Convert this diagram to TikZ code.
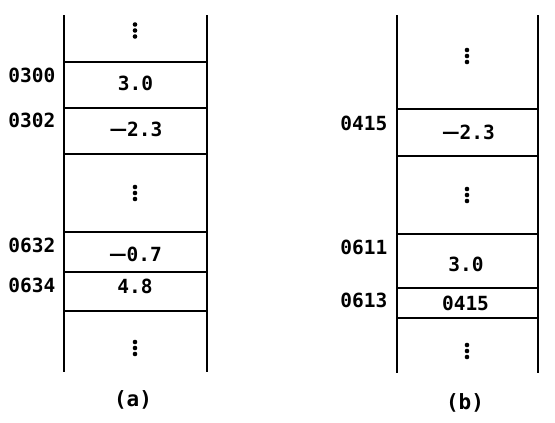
\documentclass[tikz,border=0pt]{standalone}
\usepackage{fontspec}
\setmonofont{DejaVu Sans Mono}
\newcommand{\longminus}{\scalebox{1.5}[1]{−}}
\begin{document}
\begin{tikzpicture}[x=1pt,y=-1pt,line width=1.2pt,
  txt/.style={font=\ttfamily\bfseries\fontsize{19.5}{19.5}\selectfont,inner sep=0pt},
  addr/.style={txt,anchor=east},
  val/.style={txt},
  captext/.style={font=\ttfamily\bfseries\fontsize{21}{21}\selectfont,inner sep=0pt},
  dotmark/.style={fill=black}]
\useasboundingbox (0,0) rectangle (555,423);
% ---------- column (a) ----------
\draw (64,15) -- (64,372);
\draw (207,15) -- (207,372);
\foreach \y in {62,108,154,232,272,311} \draw (64,\y) -- (207,\y);
\foreach \cy in {30.5,193,348} {\foreach \d in {-6,0,6} \fill[dotmark] (135,\cy+\d) circle (2.3);}
\node[addr] (a300) at (56,75) {0300};
\node[addr] (a302) at (56,120.5) {0302};
\node[addr] (a632) at (56,245.5) {0632};
\node[addr] (a634) at (56,285) {0634};
\node[val] (va1) at (135.5,83.5) {3.0};
\node[val] (va2) at (136,129.5) {\longminus2.3};
\node[val] (va3) at (135.5,254.5) {\longminus0.7};
\node[val] (va4) at (135,286.5) {4.8};
\node[captext] (capa) at (133,400) {(a)};
% ---------- column (b) ----------
\draw (397,15) -- (397,373);
\draw (538,15) -- (538,373);
\foreach \y in {109,156,234,288,318} \draw (397,\y) -- (538,\y);
\foreach \cy in {56,195,351} {\foreach \d in {-6,0,6} \fill[dotmark] (467,\cy+\d) circle (2.3);}
\node[addr] (b415) at (388,123.5) {0415};
\node[addr] (b611) at (388,247) {0611};
\node[addr] (b613) at (388,300.5) {0613};
\node[val] (vb1) at (468.5,132.5) {\longminus2.3};
\node[val] (vb2) at (466,264.5) {3.0};
\node[val] (vb3) at (465.5,303) {0415};
\node[captext] (capb) at (465,403) {(b)};
\end{tikzpicture}
\end{document}
